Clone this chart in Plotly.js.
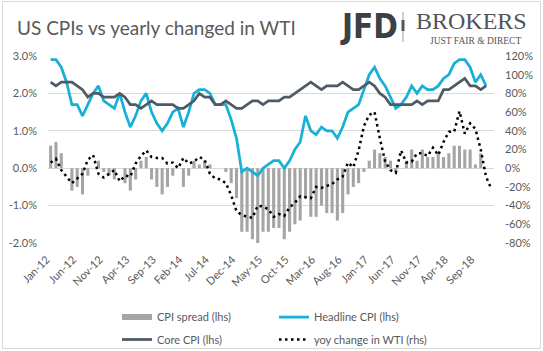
<!DOCTYPE html>
<html>
<head>
<meta charset="utf-8">
<script src="https://cdn.plot.ly/plotly-3.0.1.min.js"></script>
<style>
html,body{margin:0;padding:0;background:#ffffff;}
#chart{width:543px;height:351px;}
#frame{position:absolute;left:2px;top:1px;width:537px;height:346px;border:1px solid #d9d9d9;pointer-events:none;}
</style>
</head>
<body>
<div id="chart"></div>
<div id="frame"></div>
<script>
// ---- data (monthly, Jan-2012 .. Dec-2018) ----
const categories = [
 'Jan-12','Feb-12','Mar-12','Apr-12','May-12','Jun-12','Jul-12','Aug-12','Sep-12','Oct-12','Nov-12','Dec-12',
 'Jan-13','Feb-13','Mar-13','Apr-13','May-13','Jun-13','Jul-13','Aug-13','Sep-13','Oct-13','Nov-13','Dec-13',
 'Jan-14','Feb-14','Mar-14','Apr-14','May-14','Jun-14','Jul-14','Aug-14','Sep-14','Oct-14','Nov-14','Dec-14',
 'Jan-15','Feb-15','Mar-15','Apr-15','May-15','Jun-15','Jul-15','Aug-15','Sep-15','Oct-15','Nov-15','Dec-15',
 'Jan-16','Feb-16','Mar-16','Apr-16','May-16','Jun-16','Jul-16','Aug-16','Sep-16','Oct-16','Nov-16','Dec-16',
 'Jan-17','Feb-17','Mar-17','Apr-17','May-17','Jun-17','Jul-17','Aug-17','Sep-17','Oct-17','Nov-17','Dec-17',
 'Jan-18','Feb-18','Mar-18','Apr-18','May-18','Jun-18','Jul-18','Aug-18','Sep-18','Oct-18','Nov-18','Dec-18'
];

// Headline CPI y/y (%) – lhs
const headlineCPI = [
 2.9,2.9,2.7,2.3,1.7,1.7,1.4,1.7,2.0,2.2,1.8,1.7,
 1.6,2.0,1.5,1.1,1.4,1.8,2.0,1.5,1.2,1.0,1.2,1.5,
 1.6,1.1,1.5,2.0,2.1,2.1,2.0,1.7,1.7,1.7,1.3,0.8,
 -0.1,0.0,-0.1,-0.2,0.0,0.1,0.2,0.2,0.0,0.2,0.5,0.7,
 1.4,1.0,0.9,1.1,1.0,1.0,0.8,1.1,1.5,1.6,1.7,2.1,
 2.5,2.7,2.4,2.2,1.9,1.6,1.7,1.9,2.2,2.0,2.2,2.1,
 2.1,2.2,2.4,2.5,2.8,2.9,2.9,2.7,2.3,2.5,2.2
];

// Core CPI y/y (%) – lhs
const coreCPI = [
 2.3,2.2,2.3,2.3,2.3,2.2,2.1,1.9,2.0,2.0,1.9,1.9,
 1.9,2.0,1.9,1.7,1.7,1.6,1.7,1.8,1.7,1.7,1.7,1.7,
 1.6,1.6,1.7,1.8,2.0,1.9,1.9,1.7,1.7,1.8,1.7,1.6,
 1.6,1.7,1.8,1.8,1.7,1.8,1.8,1.8,1.9,1.9,2.0,2.1,
 2.2,2.3,2.2,2.1,2.2,2.2,2.2,2.3,2.2,2.1,2.1,2.2,
 2.3,2.2,2.0,1.9,1.7,1.7,1.7,1.7,1.7,1.8,1.7,1.8,
 1.8,1.8,2.1,2.1,2.2,2.3,2.4,2.2,2.2,2.1,2.2
];

// CPI spread (headline minus core, pp) – lhs, bars
const cpiSpread = [
 0.6,0.7,0.4,0.0,-0.6,-0.5,-0.7,-0.2,0.0,0.2,-0.1,-0.2,
 -0.3,0.0,-0.4,-0.6,-0.3,0.2,0.3,-0.3,-0.5,-0.7,-0.5,-0.2,
 0.0,-0.5,-0.2,0.2,0.1,0.2,0.1,0.0,0.0,-0.1,-0.4,-0.8,
 -1.7,-1.7,-1.9,-2.0,-1.7,-1.7,-1.6,-1.6,-1.9,-1.7,-1.5,-1.4,
 -0.8,-1.3,-1.3,-1.0,-1.2,-1.2,-1.4,-1.2,-0.7,-0.5,-0.4,-0.1,
 0.2,0.5,0.4,0.3,0.2,-0.1,0.0,0.2,0.5,0.2,0.5,0.3,
 0.3,0.4,0.3,0.4,0.6,0.6,0.5,0.5,0.1,0.4,0.0
];

// WTI y/y change (%) – rhs
const wtiYoY = [
 6,10,-2,-9,-16,-11,-6,9,14,-6,-10,-6,
 -2,-14,-8,-9,5,13,19,12,11,11,5,6,
 0,11,5,7,12,9,-6,-11,-12,-16,-29,-46,
 -50,-52,-53,-40,-41,-44,-52,-49,-51,-42,-37,-30,
 -31,-32,-20,-21,-19,-17,-12,-9,6,1,19,45,
 57,60,32,7,-2,-5,19,6,7,16,16,13,
 22,14,28,39,39,61,37,48,42,20,-9,-22
];

// tick labels
const xTickLabels = ['Jan-12','Jun-12','Nov-12','Apr-13','Sep-13','Feb-14','Jul-14','Dec-14','May-15','Oct-15','Mar-16','Aug-16','Jan-17','Jun-17','Nov-17','Apr-18','Sep-18'];
const leftTickVals = [-2,-1,0,1,2,3];
const leftTickText = ['-2.0%','-1.0%','0.0%','1.0%','2.0%','3.0%'];
const rightTickVals = [-80,-60,-40,-20,0,20,40,60,80,100,120];
const rightTickText = ['-80%','-60%','-40%','-20%','0%','20%','40%','60%','80%','100%','120%'];

// ---- styling ----
const FONT = 'Lato, "Open Sans", sans-serif';
const TXT = '#595959';
const GRID = '#d9d9d9';
const boundaryTicks = xTickLabels.map(l => categories.indexOf(l) - 0.5);

const traces = [
  {type:'bar', name:'CPI spread (lhs)', x:categories, y:cpiSpread, marker:{color:'#a5a5a5'}, showlegend:false, hoverinfo:'skip'},
  {type:'scatter', mode:'lines', name:'CPI spread (lhs)', x:[categories[0]], y:[null], line:{color:'#a5a5a5', width:6}, hoverinfo:'skip', legend:'legend'},
  {type:'scatter', mode:'lines', name:'Headline CPI (lhs)', x:categories, y:headlineCPI, line:{color:'#17b0d6', width:2.75}, hoverinfo:'skip', legend:'legend'},
  {type:'scatter', mode:'lines', name:'Core CPI (lhs)', x:categories, y:coreCPI, line:{color:'#4f5a65', width:2.75}, hoverinfo:'skip', legend:'legend2'},
  {type:'scatter', mode:'lines', name:'yoy change in WTI (rhs)', x:categories, y:wtiYoY, yaxis:'y2', line:{color:'#000000', width:2.5, dash:'2.5px,3.5px'}, hoverinfo:'skip', legend:'legend2'}
];

const px = v => (v - 48) / 446;      // page px -> paper x
const py = v => (243 - v) / 187;     // page px -> paper y

const legendBase = {orientation:'h', xanchor:'left', yanchor:'top', entrywidth:112,
  font:{family:FONT, size:11, color:TXT}, bgcolor:'rgba(0,0,0,0)', traceorder:'normal'};

const layout = {
  width:543, height:351,
  margin:{l:48, r:49, t:56, b:108, pad:0, autoexpand:false},
  paper_bgcolor:'#ffffff', plot_bgcolor:'#ffffff',
  font:{family:FONT, size:11, color:TXT},
  title:{text:'US CPIs vs yearly changed in WTI', font:{family:FONT, size:19, color:TXT},
         xref:'container', yref:'container', x:17/543, xanchor:'left', y:1-28.5/351, yanchor:'middle'},
  showlegend:true,
  legend:Object.assign({}, legendBase, {x:px(117), y:py(302.5)}),
  legend2:Object.assign({}, legendBase, {x:px(117), y:py(325)}),
  bargap:0.42,
  xaxis:{type:'category', categoryorder:'array', categoryarray:categories, range:[-0.5, 83.5],
         tickmode:'array', tickvals:xTickLabels, ticktext:xTickLabels, tickangle:-45,
         ticks:'', showgrid:false, zeroline:false, showline:false,
         ticklabelstandoff:7, ticklabelshift:-4, tickfont:{family:FONT, size:11, color:TXT}},
  xaxis2:{overlaying:'x', type:'linear', range:[-0.5, 83.5], anchor:'free', position:0.4,
          ticks:'outside', ticklen:5, tickwidth:1, tickcolor:GRID, tickmode:'array', tickvals:boundaryTicks,
          showticklabels:false, showgrid:false, zeroline:false, showline:false},
  yaxis:{range:[-2, 3], tickmode:'array', tickvals:leftTickVals, ticktext:leftTickText,
         showgrid:true, gridcolor:GRID, gridwidth:1, zeroline:true, zerolinecolor:GRID, zerolinewidth:1,
         showline:false, ticks:'', ticklabelstandoff:10, tickfont:{family:FONT, size:11, color:TXT}},
  yaxis2:{overlaying:'y', side:'right', range:[-80, 120], tickmode:'array', tickvals:rightTickVals, ticktext:rightTickText,
          showgrid:false, zeroline:false, showline:false, ticks:'', ticklabelstandoff:10,
          tickfont:{family:FONT, size:11, color:TXT}},
  annotations:[
    {text:'<b>JFD</b>', xref:'paper', yref:'paper', x:px(369), y:py(26), xanchor:'center', yanchor:'middle', showarrow:false,
     font:{family:'"DejaVu Sans Condensed", "Liberation Sans", sans-serif', size:33, color:'#3b4047'}},
    {text:'BROKERS', xref:'paper', yref:'paper', x:px(471.5), y:py(21), xanchor:'center', yanchor:'middle', showarrow:false,
     font:{family:'"Liberation Serif", serif', size:24, color:'#50555c'}},
    {text:'JUST FAIR &amp; DIRECT', xref:'paper', yref:'paper', x:px(475), y:py(41), xanchor:'center', yanchor:'middle', showarrow:false,
     font:{family:'"Liberation Serif", serif', size:9.5, color:'#50555c'}}
  ],
  shapes:[
    {type:'line', xref:'paper', yref:'paper', x0:px(403), x1:px(403), y0:py(12), y1:py(42), line:{color:'#9a9ea3', width:1}},
    {type:'line', xref:'paper', yref:'paper', x0:px(403), x1:px(403), y0:py(20), y1:py(31), line:{color:'#50555c', width:3}}
  ]
};

Plotly.newPlot('chart', traces, layout, {displayModeBar:false, staticPlot:true});
</script>
</body>
</html>
